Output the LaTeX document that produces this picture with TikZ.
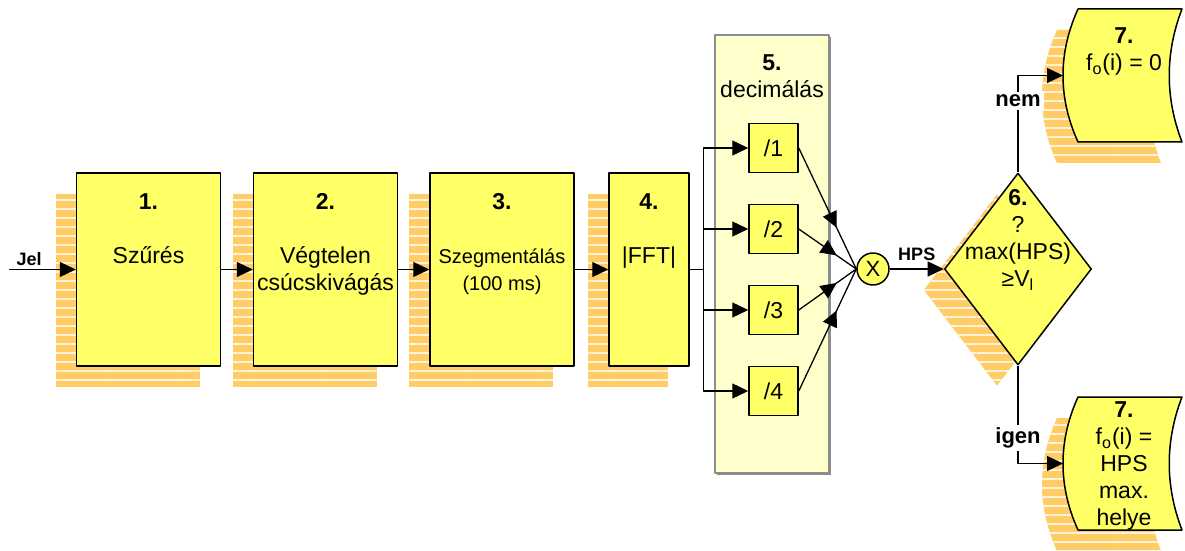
\documentclass[tikz,border=0pt]{standalone}
\usepackage{fontspec}
\setmainfont{Liberation Sans}
\usetikzlibrary{arrows.meta,shapes.geometric,shadows,patterns.meta,decorations.markings}
\definecolor{boxyellow}{HTML}{FFFF66}
\definecolor{panelyellow}{HTML}{FFFFCC}
\definecolor{hatchorange}{HTML}{FFCC66}
\definecolor{hatchlight}{HTML}{FFF4DE}
\newcommand{\segfont}{\fontsize{10}{13.5}\selectfont}

\begin{document}
\begin{tikzpicture}[x=0.5pt,y=-0.5pt,line join=round,line width=0.65pt,>={Triangle[length=8pt,width=7.5pt]},font=\fontsize{11.5}{13.5}\selectfont]
	\tikzset{
		hatch/.style={general shadow={shadow xshift=-10.5pt,shadow yshift=-10.5pt,fill=hatchorange},
			general shadow={shadow xshift=-10.5pt,shadow yshift=-10.5pt,pattern={Lines[angle=0,distance=4.5pt,line width=1pt]},pattern color=hatchlight}},
		stepbox/.style={draw,line width=0.75pt,fill=boxyellow,inner sep=0pt,minimum width=72pt,minimum height=96.5pt,hatch},
		boxtext/.style={anchor=north,yshift=-10.5pt,align=center,inner sep=0pt},
		decbox/.style={draw,line width=0.75pt,fill=boxyellow,inner sep=0pt,minimum size=24.5pt},
		card/.style={draw,line width=0.75pt,fill=boxyellow,hatch},
		cardtext/.style={anchor=north,align=center,inner sep=0pt},
		lab/.style={font=\bfseries\fontsize{9}{10}\selectfont,inner sep=1.5pt},
		answer/.style={font=\bfseries\fontsize{11}{12}\selectfont,fill=white,inner sep=1.5pt},
		midarrow/.style={postaction={decorate},decoration={markings,mark=at position 0.66 with {\arrow{>}}}}
	}
	\useasboundingbox (0,0) rectangle (1185,551);
	\node[stepbox,label={[boxtext]north:{\textbf{1.}\\[13.5pt]Szűrés}}] (b1) at (148.5,269.5) {};
	\node[stepbox,label={[boxtext]north:{\textbf{2.}\\[13.5pt]Végtelen\\csúcskivágás}}] (b2) at (325.5,269.5) {};
	\node[stepbox,label={[boxtext]north:{\textbf{3.}\\[13.5pt]\segfont Szegmentálás\\\segfont (100 ms)}}] (b3) at (502,269.5) {};
	\node[stepbox,minimum width=40pt,label={[boxtext]north:{\textbf{4.}\\[13.5pt]|FFT|}}] (b4) at (649,269.5) {};
	\node[draw=black!45,line width=0.75pt,fill=panelyellow,minimum width=57pt,minimum height=219pt,general shadow={shadow xshift=1pt,shadow yshift=-1pt,fill=black!45},label={[boxtext,yshift=0.5pt]north:{\textbf{5.}\\decimálás}}] (decim) at (772,254) {};
	\foreach \i/\y in {1/148,2/229,3/310,4/391}
		\node[decbox] (d\i) at (773.5,\y) {/\i};
	\node[draw,circle,line width=0.75pt,fill=boxyellow,minimum size=16pt,inner sep=0pt,font=\fontsize{11}{12}\selectfont] (x) at (873,269) {X};
	\node[diamond,draw,line width=0.75pt,fill=boxyellow,inner sep=0pt,minimum width=73.5pt,minimum height=96pt,hatch,label={[boxtext,yshift=2pt]north:{\textbf{6.}\\?\\max(HPS)\\≥V\textsubscript{l}}}] (cond) at (1018,269) {};
	\path[card] (1078,9) -- (1182,9) .. controls (1165,53) and (1165,98) .. (1182,142) -- (1078,142) .. controls (1058,98) and (1058,53) .. (1078,9) -- cycle;
	\coordinate (in7a) at (1063,75.5);
	\node[cardtext] (t7a) at (1124,27) {\textbf{7.}\\f\textsubscript{o}(i) = 0};
	\path[card] (1078,397) -- (1182,397) .. controls (1165,441) and (1165,486) .. (1182,530) -- (1078,530) .. controls (1058,486) and (1058,441) .. (1078,397) -- cycle;
	\coordinate (in7b) at (1063,463.5);
	\node[cardtext] (t7b) at (1124,401) {\textbf{7.}\\f\textsubscript{o}(i) =\\HPS\\max.\\helye};
	\coordinate (jel) at (9,269.5);
	\draw[->] (jel) -- node[lab,above,pos=0.3] (jeltext) {Jel} (b1);
	\foreach \a/\b in {b1/b2,b2/b3,b3/b4}
		\draw[->] (\a) -- (\b);
	\foreach \i in {1,...,4}
		\draw[->] (b4.east) -- ++(14,0) |- (d\i);
	\foreach \i in {1,...,4}
		\draw[midarrow] (d\i.east) -- (x.west);
	\draw[->] (x) -- node[lab,above,yshift=2.5pt] (hpstext) {HPS} (cond);
	\draw[->] (cond.north) |- node[answer,pos=0.37] (nem) {nem} (in7a);
	\draw[->] (cond.south) |- node[answer,pos=0.37] (igen) {igen} (in7b);
\end{tikzpicture}
\end{document}
